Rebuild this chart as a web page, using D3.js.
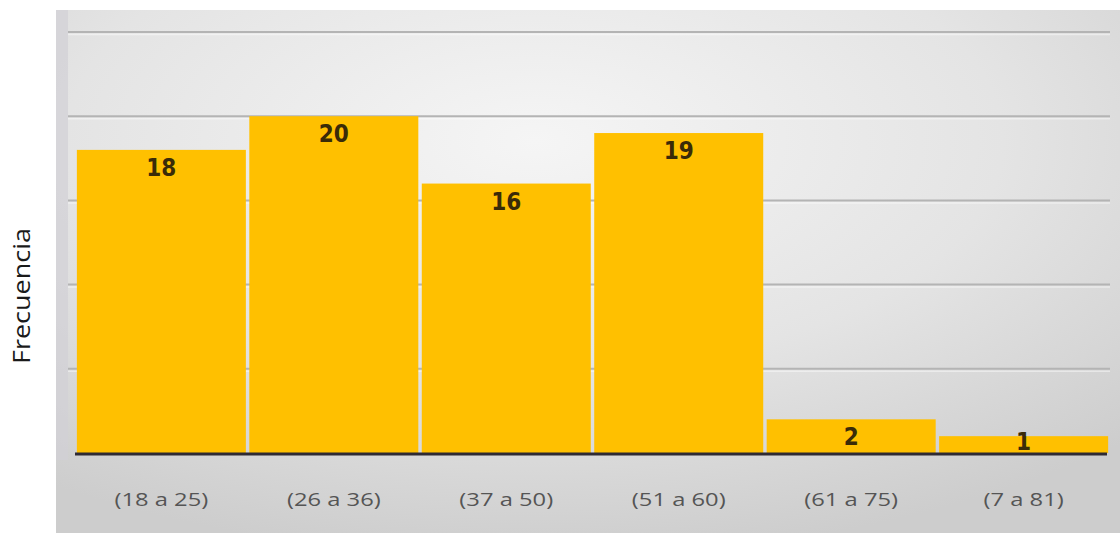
<!DOCTYPE html>
<html><head><meta charset="utf-8">
<script src="https://cdn.jsdelivr.net/npm/d3@7"></script>
<style>html,body{margin:0;padding:0;background:#fff;}</style>
</head><body>
<svg id="c" width="1120" height="533"></svg>
<script>
const categories = ["(18 a 25)", "(26 a 36)", "(37 a 50)", "(51 a 60)", "(61 a 75)", "(7 a 81)"];
const values = [18, 20, 16, 19, 2, 1];
const yTicks = [5, 10, 15, 20, 25];
const yTitle = "Frecuencia";

const svg = d3.select("#c");
const defs = svg.append("defs");
const rg = defs.append("radialGradient").attr("id","bg")
  .attr("cx","0.45").attr("cy","0.25").attr("r","0.8");
rg.append("stop").attr("offset","0").attr("stop-color","#f5f5f5");
rg.append("stop").attr("offset","0.55").attr("stop-color","#e4e4e4");
rg.append("stop").attr("offset","1").attr("stop-color","#cdcdcd");

svg.append("rect").attr("x",56).attr("y",10).attr("width",1064).attr("height",523).attr("fill","url(#bg)");
svg.append("rect").attr("x",56).attr("y",10).attr("width",12).attr("height",450).attr("fill","#d2d0d6").attr("opacity",0.7);

const x = d3.scaleBand().domain(categories).range([76, 1109]).paddingInner(0.02).paddingOuter(0.005);
const y = d3.scaleLinear().domain([0, 25]).range([453, 32]);

// gridlines
svg.append("g").selectAll("line").data(yTicks).join("line")
  .attr("x1", 68).attr("x2", 1110)
  .attr("y1", d => y(d)).attr("y2", d => y(d))
  .attr("stroke", "#b4b4b4").attr("stroke-width", 2);
svg.append("g").selectAll("line").data(yTicks).join("line")
  .attr("x1", 68).attr("x2", 1110)
  .attr("y1", d => y(d) + 2.5).attr("y2", d => y(d) + 2.5)
  .attr("stroke", "#ffffff").attr("stroke-opacity", 0.45).attr("stroke-width", 1.5);

// bars
svg.append("g").selectAll("rect").data(values).join("rect")
  .attr("x", (d,i) => x(categories[i]))
  .attr("width", x.bandwidth())
  .attr("y", d => y(d))
  .attr("height", d => y(0) - y(d))
  .attr("fill", "#ffc000");

// baseline
svg.append("line").attr("x1", 75).attr("x2", 1107).attr("y1", y(0)+1).attr("y2", y(0)+1)
  .attr("stroke", "#2e2a33").attr("stroke-width", 3);

// value labels
svg.append("g").selectAll("text").data(values).join("text")
  .attr("x", (d,i) => x(categories[i]) + x.bandwidth()/2)
  .attr("y", d => Math.min(y(d) + 26, y(0) - 3))
  .attr("text-anchor", "middle")
  .attr("font-family", "'Liberation Sans Narrow','DejaVu Sans Condensed',sans-serif")
  .attr("font-size", 24).attr("font-weight", "bold")
  .attr("fill", "#3a2b08")
  .text(d => d);

// x axis labels
const xAxis = d3.axisBottom(x).tickSize(0).tickPadding(0);
const gx = svg.append("g").attr("transform", `translate(0, 500)`).call(xAxis);
gx.select(".domain").remove();
gx.selectAll("text").attr("font-family", "'Open Sans','DejaVu Sans',sans-serif")
  .attr("font-size", 18).attr("fill", "#555555").attr("dy", "0.35em")
  .attr("transform", "scale(1.32,1)");

// y title
svg.append("text").attr("transform", "translate(30, 296) rotate(-90)")
  .attr("text-anchor", "middle")
  .attr("font-family", "'Open Sans','DejaVu Sans',sans-serif")
  .attr("font-size", 24).attr("fill", "#1a1a1a")
  .attr("textLength", 136).attr("lengthAdjust", "spacingAndGlyphs")
  .text(yTitle);
</script>
</body></html>
